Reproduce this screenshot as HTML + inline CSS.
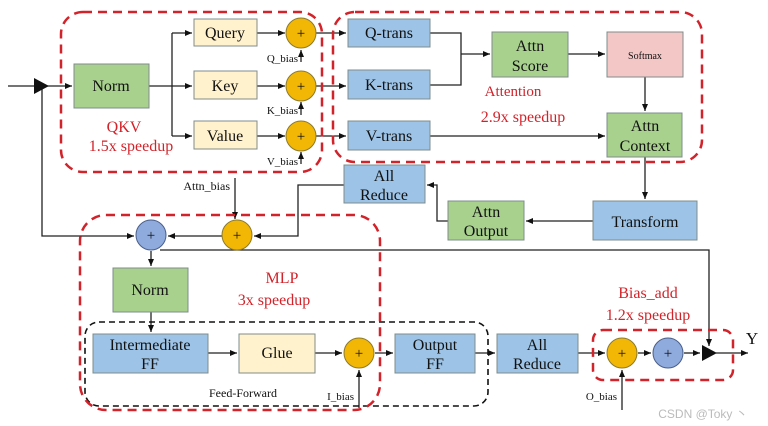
<!DOCTYPE html>
<html><head><meta charset="utf-8"><style>
html,body{margin:0;padding:0;background:#fff;width:768px;height:426px;overflow:hidden}
svg{display:block}
text{font-family:"Liberation Serif",serif;fill:#111}
.b{font-size:16px}
.r{fill:#d2232a}
</style></head><body>
<svg width="768" height="426" viewBox="0 0 768 426" xmlns="http://www.w3.org/2000/svg">
<defs>
<marker id="a" markerWidth="8" markerHeight="8" refX="7" refY="4" orient="auto" markerUnits="userSpaceOnUse"><path d="M0,1 L7,4 L0,7 z" fill="#111"/></marker>
</defs>
<g fill="none" stroke="#222" stroke-width="1.3">
<path d="M8,86 H72" marker-end="url(#a)"/>
<path d="M42,86 V236 H134" marker-end="url(#a)"/>
<path d="M149,86 H192" marker-end="url(#a)"/>
<path d="M172,33 V136"/>
<path d="M172,33 H192" marker-end="url(#a)"/>
<path d="M172,136 H192" marker-end="url(#a)"/>
<path d="M257,33 H285" marker-end="url(#a)"/>
<path d="M257,86 H285" marker-end="url(#a)"/>
<path d="M257,136 H285" marker-end="url(#a)"/>
<path d="M301,62 V50" marker-end="url(#a)"/>
<path d="M301,115 V102" marker-end="url(#a)"/>
<path d="M301,164 V152" marker-end="url(#a)"/>
<path d="M316,33 H346" marker-end="url(#a)"/>
<path d="M316,86 H346" marker-end="url(#a)"/>
<path d="M316,136 H346" marker-end="url(#a)"/>
<path d="M430,33 H461 V85 H430"/>
<path d="M461,54 H490" marker-end="url(#a)"/>
<path d="M568,54 H605" marker-end="url(#a)"/>
<path d="M645,77 V111" marker-end="url(#a)"/>
<path d="M430,136 H605" marker-end="url(#a)"/>
<path d="M645,157 V199" marker-end="url(#a)"/>
<path d="M593,221 H526" marker-end="url(#a)"/>
<path d="M448,221 H437 V185 H427" marker-end="url(#a)"/>
<path d="M344,185 H298 V236 H254" marker-end="url(#a)"/>
<path d="M235,178 V219" marker-end="url(#a)"/>
<path d="M222,236 H168" marker-end="url(#a)"/>
<path d="M151,251 V266" marker-end="url(#a)"/>
<path d="M151,312 V332" marker-end="url(#a)"/>
<path d="M208,353 H237" marker-end="url(#a)"/>
<path d="M315,353 H342" marker-end="url(#a)"/>
<path d="M359,408 V370" marker-end="url(#a)"/>
<path d="M375,353 H393" marker-end="url(#a)"/>
<path d="M475,353 H495" marker-end="url(#a)"/>
<path d="M578,353 H605" marker-end="url(#a)"/>
<path d="M638,353 H651" marker-end="url(#a)"/>
<path d="M684,353 H700" marker-end="url(#a)"/>
<path d="M716,353 H748" marker-end="url(#a)"/>
<path d="M622,410 V370" marker-end="url(#a)"/>
<path d="M160,250 H709 V346" marker-end="url(#a)"/>
</g>
<path d="M34,78 L49,86 L34,94 z" fill="#111"/>
<path d="M702,345 L717,353 L702,361 z" fill="#111"/>
<g stroke="#7f8c8d" stroke-width="1">
<rect x="74" y="64" width="75" height="44" fill="#a9d18e"/>
<rect x="194" y="19" width="63" height="27" fill="#fff2cc"/>
<rect x="194" y="71" width="63" height="28" fill="#fff2cc"/>
<rect x="194" y="121" width="63" height="28" fill="#fff2cc"/>
<rect x="348" y="19" width="82" height="28" fill="#9dc3e6"/>
<rect x="348" y="70" width="82" height="29" fill="#9dc3e6"/>
<rect x="348" y="121" width="82" height="29" fill="#9dc3e6"/>
<rect x="492" y="32" width="76" height="45" fill="#a9d18e"/>
<rect x="607" y="32" width="76" height="45" fill="#f4c7c7"/>
<rect x="607" y="113" width="75" height="44" fill="#a9d18e"/>
<rect x="344" y="165" width="81" height="38" fill="#9dc3e6"/>
<rect x="448" y="201" width="76" height="39" fill="#a9d18e"/>
<rect x="593" y="201" width="104" height="39" fill="#9dc3e6"/>
<rect x="113" y="268" width="75" height="44" fill="#a9d18e"/>
<rect x="93" y="334" width="115" height="39" fill="#9dc3e6"/>
<rect x="239" y="334" width="76" height="39" fill="#fff2cc"/>
<rect x="395" y="334" width="80" height="39" fill="#9dc3e6"/>
<rect x="497" y="334" width="81" height="39" fill="#9dc3e6"/>
</g>
<g stroke="#8a7a30" stroke-width="1" fill="#f2b705">
<circle cx="301" cy="33" r="15"/><circle cx="301" cy="86" r="15"/><circle cx="301" cy="136" r="15"/>
<circle cx="237" cy="235" r="15"/><circle cx="359" cy="353" r="15"/><circle cx="622" cy="353" r="15"/>
</g>
<g stroke="#4a5f8a" stroke-width="1" fill="#8faadc">
<circle cx="151" cy="235" r="15"/><circle cx="668" cy="353" r="15"/>
</g>
<g font-size="15" text-anchor="middle">
<text x="301" y="38">+</text><text x="301" y="91">+</text><text x="301" y="141">+</text>
<text x="237" y="240">+</text><text x="359" y="358">+</text><text x="622" y="358">+</text>
<text x="151" y="240">+</text><text x="668" y="358">+</text>
</g>
<g fill="none" stroke-width="2.5" stroke-dasharray="9,6">
<rect x="61" y="12" width="261" height="160" rx="22" stroke="#d2232a"/>
<rect x="333" y="12" width="369" height="150" rx="22" stroke="#d2232a"/>
<rect x="85" y="322" width="403" height="84" rx="14" stroke="#111" stroke-width="1.6" stroke-dasharray="6,4"/>
<rect x="80" y="215" width="300" height="195" rx="26" stroke="#d2232a"/>
<rect x="593" y="330" width="140" height="50" rx="10" stroke="#d2232a"/>
</g>
<g class="b" text-anchor="middle">
<text x="111" y="91">Norm</text>
<text x="225" y="38">Query</text>
<text x="225" y="91">Key</text>
<text x="225" y="141">Value</text>
<text x="389" y="38">Q-trans</text>
<text x="389" y="90">K-trans</text>
<text x="389" y="141">V-trans</text>
<text x="530" y="51">Attn</text><text x="530" y="71">Score</text>
<text x="645" y="59" font-size="10">Softmax</text>
<text x="645" y="131">Attn</text><text x="645" y="151">Context</text>
<text x="384" y="181">All</text><text x="384" y="200">Reduce</text>
<text x="486" y="217">Attn</text><text x="486" y="236">Output</text>
<text x="645" y="227">Transform</text>
<text x="150" y="295">Norm</text>
<text x="150" y="350">Intermediate</text><text x="150" y="369">FF</text>
<text x="277" y="358">Glue</text>
<text x="435" y="350">Output</text><text x="435" y="369">FF</text>
<text x="537" y="350">All</text><text x="537" y="369">Reduce</text>
<text x="752" y="344" font-size="17">Y</text>
</g>
<g font-size="11" text-anchor="end">
<text x="298" y="62">Q_bias</text>
<text x="298" y="114">K_bias</text>
<text x="298" y="165">V_bias</text>
<text x="354" y="400">I_bias</text>
<text x="617" y="400">O_bias</text>
<text x="230" y="190" font-size="12">Attn_bias</text>
</g>
<text x="243" y="397" font-size="12" text-anchor="middle">Feed-Forward</text>
<g class="r" font-size="16" text-anchor="middle">
<text x="124" y="132" class="r">QKV</text>
<text x="131" y="151" class="r">1.5x speedup</text>
<text x="513" y="96" class="r" font-size="15">Attention</text>
<text x="523" y="122" class="r">2.9x speedup</text>
<text x="282" y="283" class="r">MLP</text>
<text x="274" y="305" class="r">3x speedup</text>
<text x="648" y="298" class="r">Bias_add</text>
<text x="648" y="320" class="r">1.2x speedup</text>
</g>
<text x="703" y="418" font-size="12" text-anchor="middle" style="fill:#bbb;font-family:'Liberation Sans',sans-serif">CSDN @Toky 丶</text>
</svg>
</body></html>
